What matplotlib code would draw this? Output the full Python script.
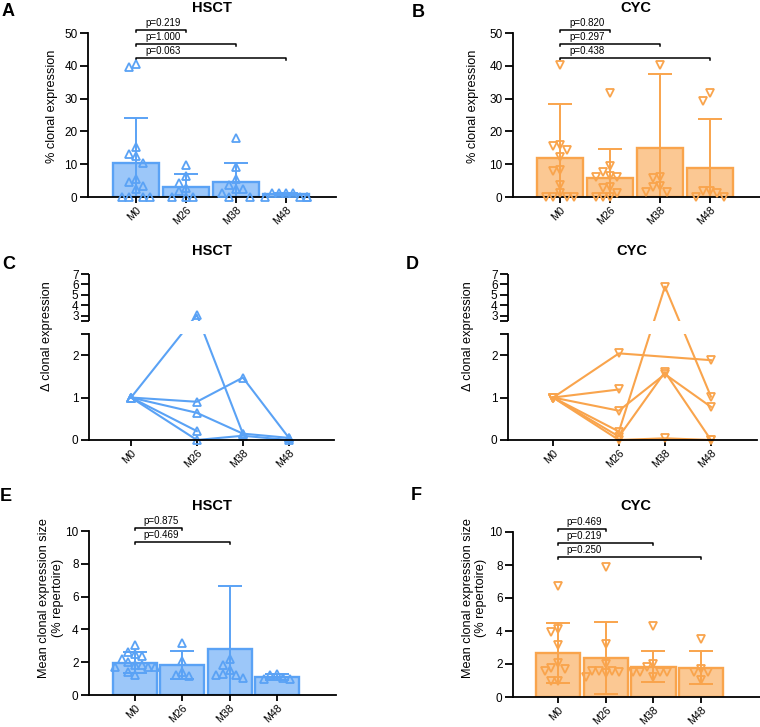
import numpy as np
import matplotlib
matplotlib.use('Agg')
import matplotlib.pyplot as plt
from matplotlib.colors import to_rgba

plt.rcParams['font.family'] = ['Liberation Sans', 'DejaVu Sans']

W, H = 760, 727
BLUE = '#5aa2f5'
ORANGE = '#f9a44c'

timepoints = ['M0', 'M26', 'M38', 'M48']

# A: HSCT % clonal expression
hsct_pct = [
    [40.4, 39.5, 15.2, 13.0, 12.4, 10.5, 5.5, 4.5, 3.3, 2.5, 0, 0, 0, 0],
    [9.7, 6.3, 4.4, 2.8, 1.8, 0, 0, 0],
    [17.9, 9.0, 5.4, 3.6, 2.3, 2.3, 1.1, 0, 0],
    [1.3, 1.3, 1.3, 1.3, 0, 0, 0, 0],
]
hsct_pct_mean = [10.3, 3.0, 4.5, 1.0]
hsct_pct_sd = [13.8, 3.9, 6.0, 0.3]
hsct_pct_p = ['p=0.219', 'p=1.000', 'p=0.063']

# B: CYC % clonal expression
cyc_pct = [
    [40.2, 15.9, 15.5, 14.3, 12.3, 8.2, 8.0, 3.7, 1.1, 0, 0, 0, 0],
    [31.6, 9.6, 7.6, 6.5, 6.2, 6.2, 2.9, 2.6, 1.3, 0, 0, 0],
    [40.2, 6.2, 5.7, 3.5, 2.9, 1.6, 1.4],
    [31.6, 29.4, 1.9, 1.9, 1.3, 0, 0],
]
cyc_pct_mean = [12.0, 5.9, 14.8, 8.9]
cyc_pct_sd = [16.3, 8.7, 22.7, 14.9]
cyc_pct_p = ['p=0.820', 'p=0.297', 'p=0.438']

# C / D: delta clonal expression per patient (nan = no sample)
nan = np.nan
hsct_delta = [
    [1, 3.1, 0.15, nan],
    [1, 0.9, 1.47, 0.05],
    [1, 0.64, 0.15, 0.05],
    [1, 0.21, nan, nan],
    [1, 0.0, 0.1, 0.0],
]
cyc_delta = [
    [1, 2.04, nan, 1.88],
    [1, 1.19, nan, nan],
    [1, 0.69, 1.55, 0.78],
    [1, 0.2, 5.8, 1.02],
    [1, 0.08, 1.6, 0.0],
    [1, 0.0, 0.04, 0.0],
]

# E: HSCT mean clonal expression size
hsct_size = [
    [3.05, 2.6, 2.5, 2.4, 2.2, 2.0, 1.8, 1.8, 1.7, 1.7, 1.7, 1.4, 1.25],
    [3.2, 2.1, 1.4, 1.25, 1.15],
    [2.2, 1.85, 1.5, 1.3, 1.2, 1.2, 1.05],
    [1.3, 1.25, 1.05, 1.0, 1.0],
]
hsct_size_mean = [1.98, 1.83, 2.8, 1.1]
hsct_size_sd = [0.62, 0.87, 3.85, 0.2]
hsct_size_p = ['p=0.875', 'p=0.469']

# F: CYC mean clonal expression size
cyc_size = [
    [6.7, 4.15, 3.95, 3.15, 2.05, 1.75, 1.7, 1.6, 1.0, 1.0],
    [7.9, 3.2, 2.0, 1.6, 1.55, 1.55, 1.5, 1.45, 1.2],
    [4.3, 2.0, 1.8, 1.5, 1.5, 1.5, 1.5, 1.2],
    [3.5, 1.7, 1.5, 1.5, 1.05],
]
cyc_size_mean = [2.64, 2.37, 1.83, 1.78]
cyc_size_sd = [1.82, 2.18, 0.95, 1.0]
cyc_size_p = ['p=0.469', 'p=0.219', 'p=0.250']

delta_pos = [0, 1.43, 2.43, 3.43]   # uneven spacing of the delta panels


def rect(l, t, r, b):
    return [l / W, 1 - b / H, (r - l) / W, (b - t) / H]


def style(ax):
    for s in ['top', 'right']:
        ax.spines[s].set_visible(False)
    for s in ['left', 'bottom']:
        ax.spines[s].set_linewidth(1.3)
    ax.tick_params(width=1.3, length=6, labelsize=8.5, pad=1.5)
    ax.tick_params(axis='x', labelsize=7.7, length=4.5, pad=1)


def swarm(vals, px_unit, step=0.14, d=8.5):
    placed = []
    out = []
    cands = [0] + [s * i for i in range(1, 4) for s in (-1, 1)]
    for v in vals:
        for c in cands:
            if all(not (c == pc and abs(v - pv) * px_unit < d) for pc, pv in placed):
                break
        placed.append((c, v))
        out.append(c * step)
    return out


def bar_panel(ax, groups, means, sds, color, marker, ymax, pvals, xlim):
    x = np.arange(len(timepoints))
    ax.set_xlim(*xlim)
    ax.set_ylim(0, ymax)
    ax.bar(x, means, width=0.93, facecolor=to_rgba(color, 0.6), edgecolor=color,
           linewidth=1.7, zorder=1)
    ax.errorbar(x, means, yerr=sds, fmt='none', ecolor=color, elinewidth=1.4,
                capsize=8.5, capthick=1.4, zorder=2)
    px_unit = ax.get_position().height * H / ymax
    for i, vals in enumerate(groups):
        offs = swarm(vals, px_unit)
        ax.plot(i + np.array(offs), vals, ls='none', marker=marker, ms=5.5,
                mfc='none', mec=color, mew=1.3, clip_on=False, zorder=3)
    levels = [1.02, 0.935, 0.85]
    for j, p in enumerate(pvals):
        h = levels[j] * ymax
        dr = 0.015 * ymax
        ax.plot([0, 0, j + 1, j + 1], [h - dr, h, h, h - dr], color='k', lw=1.1,
                clip_on=False)
        ax.text(0.18, h + 0.012 * ymax, p, fontsize=7, ha='left', va='bottom')
    ax.set_xticks(x)
    ax.set_xticklabels(timepoints, rotation=45, ha='right', rotation_mode='anchor')
    style(ax)


UP = 0.2465


def fwd(y):
    y = np.asarray(y, float)
    return np.where(y <= 2.5, y, 2.8 + (y - 2.5) * UP)


def inv(t):
    t = np.asarray(t, float)
    return np.where(t <= 2.5, t, np.where(t < 2.8, 2.5, 2.5 + (t - 2.8) / UP))


def delta_panel(ax, series, color, marker, xlim):
    ax.set_yscale('function', functions=(fwd, inv))
    ax.set_xlim(*xlim)
    ax.set_ylim(0, 7)
    for row in series:
        xs = [p for p, v in zip(delta_pos, row) if not np.isnan(v)]
        ys = [v for v in row if not np.isnan(v)]
        ax.plot(xs, ys, color=color, lw=1.5, marker=marker, ms=5.5, mfc='none',
                mec=color, mew=1.3, clip_on=False, zorder=2)
    ax.axhspan(2.5, 2.501, color='white', zorder=2.3, lw=0)
    ax.set_yticks([0, 1, 2, 2.5, 2.501, 3, 4, 5, 6, 7])
    ax.set_yticklabels(['0', '1', '2', '', '', '3', '4', '5', '6', '7'])
    ax.set_xticks(delta_pos)
    ax.set_xticklabels(timepoints, rotation=45, ha='right', rotation_mode='anchor')
    style(ax)
    ax.spines['left'].set_bounds(0, 2.5)
    ax.plot([0, 0], [2.501, 7], transform=ax.get_yaxis_transform(), color='k',
            lw=1.3, clip_on=False, solid_capstyle='butt')
    ax.set_ylabel('\u0394 clonal expression', fontsize=9.2)


fig = plt.figure(figsize=(W / 100, H / 100), dpi=100)

axA = fig.add_axes(rect(88, 33, 336, 197))
bar_panel(axA, hsct_pct, hsct_pct_mean, hsct_pct_sd, BLUE, '^', 50, hsct_pct_p, (-0.96, 4.0))
axA.set_yticks(range(0, 51, 10))
axA.set_ylabel('% clonal expression', fontsize=9.2)
axA.yaxis.set_label_coords(-0.121, 0.55)

axB = fig.add_axes(rect(513, 33, 760, 197))
bar_panel(axB, cyc_pct, cyc_pct_mean, cyc_pct_sd, ORANGE, 'v', 50, cyc_pct_p, (-0.94, 4.0))
axB.set_yticks(range(0, 51, 10))
axB.set_ylabel('% clonal expression', fontsize=9.2)
axB.yaxis.set_label_coords(-0.138, 0.55)

axC = fig.add_axes(rect(89, 274, 334, 440))
delta_panel(axC, hsct_delta, BLUE, '^', (-0.913, 4.41))
axC.yaxis.set_label_coords(-0.145, 0.627)

axD = fig.add_axes(rect(508, 274, 757, 440))
delta_panel(axD, cyc_delta, ORANGE, 'v', (-0.98, 4.43))
axD.yaxis.set_label_coords(-0.135, 0.627)

axE = fig.add_axes(rect(89, 531, 336, 695))
bar_panel(axE, hsct_size, hsct_size_mean, hsct_size_sd, BLUE, '^', 10, hsct_size_p, (-0.97, 4.25))
axE.set_yticks(range(0, 11, 2))
axE.set_ylabel('Mean clonal expression size\n(% repertoire)', fontsize=9.2)
axE.yaxis.set_label_coords(-0.1, 0.59)

axF = fig.add_axes(rect(513, 532, 760, 697))
bar_panel(axF, cyc_size, cyc_size_mean, cyc_size_sd, ORANGE, 'v', 10, cyc_size_p, (-0.945, 4.235))
axF.set_yticks(range(0, 11, 2))
axF.set_ylabel('Mean clonal expression size\n(% repertoire)', fontsize=9.2)
axF.yaxis.set_label_coords(-0.104, 0.6)

# panel titles
for txt, x, y in [('HSCT', 212, 8), ('CYC', 636, 8), ('HSCT', 212, 251),
                  ('CYC', 632, 251), ('HSCT', 212, 506), ('CYC', 636, 506)]:
    fig.text(x / W, 1 - y / H, txt, fontsize=10.5, fontweight='bold',
             ha='center', va='center')

for lab, x, y in [('A', 2, 3), ('B', 412, 4), ('C', 2, 256), ('D', 406, 256),
                  ('E', 0, 488), ('F', 411, 487)]:
    fig.text(x / W, 1 - y / H, lab, fontsize=13, fontweight='bold', ha='left', va='top')

fig.savefig('out.png', dpi=100)
